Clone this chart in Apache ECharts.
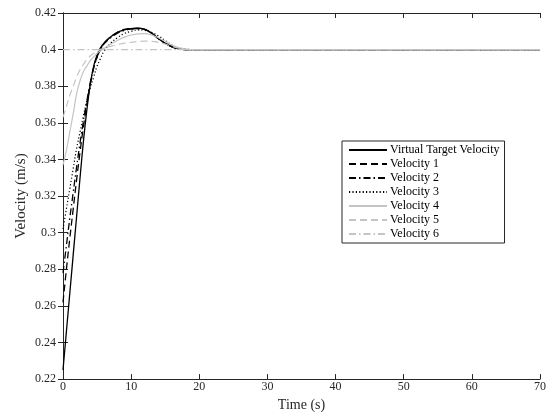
<!DOCTYPE html>
<html>
<head>
<meta charset="utf-8">
<script src="https://cdn.jsdelivr.net/npm/echarts@6/dist/echarts.min.js"></script>
<style>
  html, body { margin: 0; padding: 0; background: #fff; }
  #main { width: 556px; height: 417px; }
</style>
</head>
<body>
<div id="main"></div>
<script>
// sample times (s)
var times = [0, 0.5, 1, 1.5, 2, 2.5, 3, 3.5, 4, 4.5, 5, 5.5, 6, 7, 8, 9, 10, 11, 12, 13, 14, 15, 16, 17, 18, 19, 20, 70];

var targetVel = [0.225, 0.246, 0.267, 0.288, 0.309, 0.330, 0.350, 0.367, 0.381, 0.391, 0.397, 0.401, 0.4035, 0.407, 0.4095, 0.4108, 0.4115, 0.4118, 0.411, 0.409, 0.406, 0.4035, 0.4015, 0.4005, 0.4, 0.4, 0.4, 0.4];
var vel1 = [0.262, 0.280, 0.297, 0.313, 0.329, 0.344, 0.358, 0.370, 0.381, 0.390, 0.396, 0.400, 0.4035, 0.407, 0.4095, 0.411, 0.4115, 0.4115, 0.411, 0.409, 0.406, 0.4035, 0.4015, 0.4005, 0.4, 0.4, 0.4, 0.4];
var vel2 = [0.278, 0.293, 0.308, 0.322, 0.336, 0.349, 0.361, 0.372, 0.382, 0.390, 0.396, 0.400, 0.403, 0.4065, 0.409, 0.4105, 0.4112, 0.4115, 0.411, 0.409, 0.406, 0.4035, 0.4015, 0.4005, 0.4, 0.4, 0.4, 0.4];
var vel3 = [0.302, 0.313, 0.324, 0.335, 0.346, 0.355, 0.364, 0.372, 0.379, 0.385, 0.391, 0.395, 0.399, 0.4035, 0.4065, 0.4088, 0.410, 0.4108, 0.4105, 0.4095, 0.4075, 0.405, 0.4025, 0.401, 0.4003, 0.4, 0.4, 0.4];
var vel4 = [0.337, 0.345, 0.355, 0.365, 0.376, 0.383, 0.388, 0.391, 0.394, 0.396, 0.398, 0.3993, 0.4005, 0.403, 0.405, 0.4068, 0.408, 0.4086, 0.4087, 0.408, 0.4065, 0.4045, 0.4025, 0.401, 0.4003, 0.4, 0.4, 0.4];
var vel5 = [0.363, 0.369, 0.375, 0.380, 0.385, 0.389, 0.392, 0.3945, 0.3965, 0.398, 0.3993, 0.4001, 0.4008, 0.4018, 0.4027, 0.4035, 0.404, 0.4044, 0.4046, 0.4045, 0.404, 0.403, 0.4018, 0.4008, 0.4002, 0.4, 0.4, 0.4];
var vel6 = [0.4, 0.4, 0.4, 0.4, 0.4, 0.4, 0.4, 0.4, 0.4, 0.4, 0.4, 0.4, 0.4, 0.4, 0.4, 0.4, 0.4, 0.4, 0.4, 0.4, 0.4, 0.4, 0.4, 0.4, 0.4, 0.4, 0.4, 0.4];

var seriesNames = ['Virtual Target Velocity', 'Velocity 1', 'Velocity 2', 'Velocity 3', 'Velocity 4', 'Velocity 5', 'Velocity 6'];
var seriesValues = [targetVel, vel1, vel2, vel3, vel4, vel5, vel6];

var font = '"Liberation Serif", "DejaVu Serif", serif';
var axisCol = '#262626';
var gray = '#c4c4c4';

// colour / dash for each line
var styles = [
  { color: '#000', type: 'solid', width: 1.3 },
  { color: '#000', type: [7, 4], width: 1.3 },
  { color: '#000', type: [7, 3, 1.5, 3], width: 1.3 },
  { color: '#000', type: [1.2, 2.2], width: 1.2 },
  { color: gray, type: 'solid', width: 1.2 },
  { color: gray, type: [7, 4], width: 1.2 },
  { color: gray, type: [7, 3, 1.5, 3], width: 1.2 }
];

function pairs(vals) {
  var out = [];
  for (var i = 0; i < times.length; i++) {
    out.push([times[i], vals[i]]);
  }
  return out;
}

var series = [];
for (var i = 0; i < seriesNames.length; i++) {
  series.push({
    name: seriesNames[i],
    type: 'line',
    data: pairs(seriesValues[i]),
    smooth: 0.4,
    symbol: 'none',
    animation: false,
    color: styles[i].color,
    itemStyle: { opacity: 0 },
    lineStyle: { color: styles[i].color, type: styles[i].type, width: styles[i].width }
  });
}

var chart = echarts.init(document.getElementById('main'));

var baseAxis = {
  axisLine: { show: true, lineStyle: { color: axisCol, width: 1 } },
  axisTick: { show: true, inside: true, length: 5, lineStyle: { color: axisCol } },
  splitLine: { show: false }
};

chart.setOption({
  backgroundColor: '#fff',
  animation: false,
  grid: { left: 63, right: 16, top: 13, bottom: 30 },
  legend: {
    data: seriesNames,
    orient: 'vertical',
    left: 342,
    top: 141,
    padding: [3, 5, 3, 6],
    itemWidth: 38,
    itemHeight: 14,
    itemGap: 2,
    backgroundColor: '#fff',
    borderColor: axisCol,
    borderWidth: 1,
    borderRadius: 0,
    itemStyle: { opacity: 0 },
    textStyle: { fontFamily: font, fontSize: 12, color: '#000', padding: [0, 0, 0, -2] }
  },
  xAxis: [
    Object.assign({}, baseAxis, {
      type: 'value', min: 0, max: 70, interval: 10, position: 'bottom',
      name: 'Time (s)', nameLocation: 'middle', nameGap: 11,
      nameTextStyle: { fontFamily: font, fontSize: 14, color: '#262626' },
      axisLabel: { fontFamily: font, fontSize: 12, color: '#262626', margin: 2 }
    }),
    Object.assign({}, baseAxis, {
      type: 'value', min: 0, max: 70, interval: 10, position: 'top',
      axisLabel: { show: false }
    })
  ],
  yAxis: [
    Object.assign({}, baseAxis, {
      type: 'value', min: 0.22, max: 0.42, interval: 0.02, position: 'left',
      name: 'Velocity (m/s)', nameLocation: 'middle', nameGap: 34,
      nameMoveOverlap: false,
      nameTextStyle: { fontFamily: font, fontSize: 15, color: '#262626' },
      axisLabel: {
        fontFamily: font, fontSize: 12, color: '#262626', margin: 7,
        formatter: function (v) { return String(parseFloat(v.toFixed(2))); }
      }
    }),
    Object.assign({}, baseAxis, {
      type: 'value', min: 0.22, max: 0.42, interval: 0.02, position: 'right',
      axisLabel: { show: false }
    })
  ],
  series: series
});
</script>
</body>
</html>
